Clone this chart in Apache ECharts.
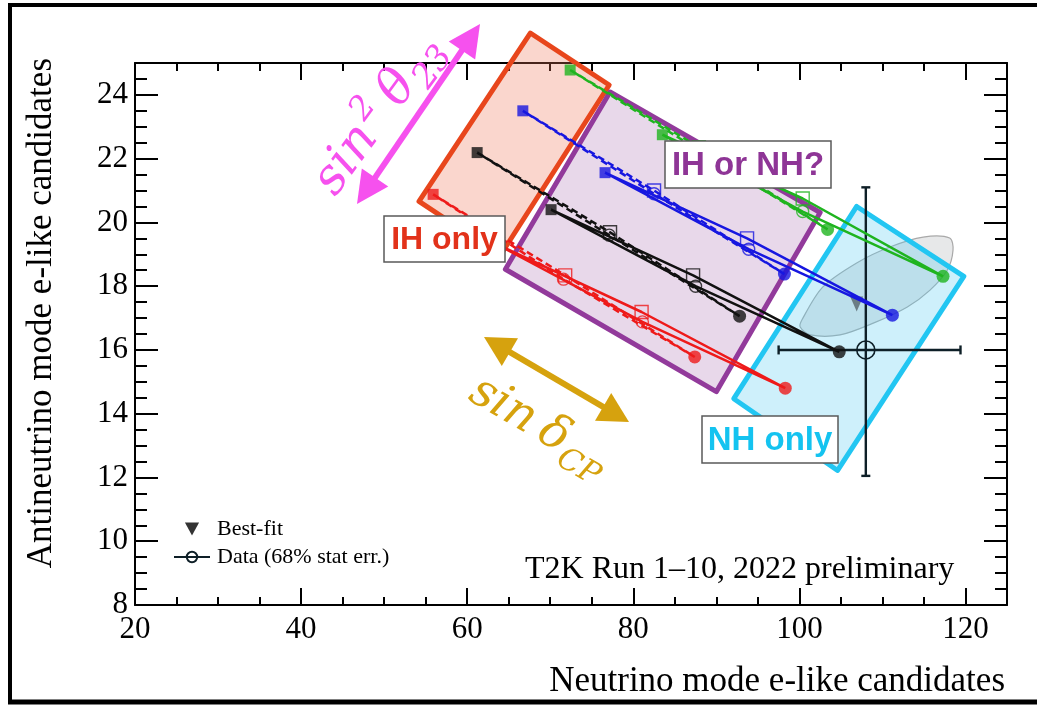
<!DOCTYPE html>
<html>
<head>
<meta charset="utf-8">
<script src="https://cdn.jsdelivr.net/npm/echarts@6/dist/echarts.min.js"></script>
<style>
  html, body { margin: 0; padding: 0; background: #fff; }
  #chart { width: 1037px; height: 706px; }
</style>
</head>
<body>
<div id="chart"></div>
<script>
// Axis ranges (event counts)
const xRange = [20, 125];
const yRange = [8, 25];

// Predicted (nu, anti-nu) e-like counts. Each loop runs over delta_CP:
// +pi/2 (filled square), 0 (open square), -pi/2 (filled circle), pi (open circle)
const ihRed   = [[55.9, 20.88], [71.8, 18.34], [87.4, 15.78], [71.6, 18.22]];
const nhRed   = [[63.3, 19.35], [81.0, 17.19], [98.3, 14.80], [81.1, 16.88]];
const ihBlack = [[61.2, 22.19], [77.2, 19.69], [92.8, 17.06], [77.1, 19.60]];
const nhBlack = [[70.1, 20.40], [87.2, 18.34], [104.8, 15.94], [87.5, 18.00]];
const ihBlue  = [[66.7, 23.50], [82.5, 21.00], [98.2, 18.38], [82.5, 20.90]];
const nhBlue  = [[76.6, 21.56], [93.7, 19.50], [111.2, 17.09], [93.9, 19.16]];
const ihGreen = [[72.4, 24.78], [87.9, 22.36], [103.4, 19.78], [87.9, 22.26]];
const nhGreen = [[83.5, 22.75], [100.4, 20.75], [117.3, 18.31], [100.4, 20.34]];

// Observed data and its 68% statistical errors
const dataPoint = [108.0, 16.0];
const dataErrX = [97.5, 119.4];
const dataErrY = [12.05, 21.1];

// Best-fit point and its 68% contour
const bestFit = [106.9, 17.44];
const contour68 = [
  [100.3, 16.94], [102.8, 17.97], [106.9, 18.73], [110.9, 19.23], [114.9, 19.54],
  [118.1, 19.51], [118.5, 19.13], [117.8, 18.50], [115.7, 17.87], [113.0, 17.35],
  [108.9, 16.84], [104.9, 16.47], [101.3, 16.47], [100.1, 16.72]
];

// Hand-drawn regions (corners in data units)
const regionIH   = [[67.6, 25.94], [77.1, 24.31], [64.0, 18.97], [54.2, 20.66]];
const regionBoth = [[77.2, 24.09], [102.5, 20.31], [90.0, 14.69], [64.6, 18.53]];
const regionNH   = [[106.9, 20.50], [119.8, 18.31], [104.6, 12.22], [92.1, 14.47]];

const COLORS = { red: '#ee1a1a', black: '#111111', blue: '#1717e0', green: '#1fb41f' };
const loops = [
  { pts: ihRed, color: COLORS.red, dashed: true },
  { pts: nhRed, color: COLORS.red, dashed: false },
  { pts: ihBlack, color: COLORS.black, dashed: true },
  { pts: nhBlack, color: COLORS.black, dashed: false },
  { pts: ihBlue, color: COLORS.blue, dashed: true },
  { pts: nhBlue, color: COLORS.blue, dashed: false },
  { pts: ihGreen, color: COLORS.green, dashed: true },
  { pts: nhGreen, color: COLORS.green, dashed: false }
];

const regions = [
  { corners: regionIH, fill: 'rgba(240,120,90,0.30)', stroke: '#e8461c' },
  { corners: regionBoth, fill: 'rgba(140,60,150,0.20)', stroke: '#923a9b' },
  { corners: regionNH, fill: 'rgba(80,200,240,0.28)', stroke: '#22c6f2' }
];

const SERIF = '"Liberation Serif", "Times New Roman", serif';
const SANS = '"Liberation Sans", Arial, sans-serif';
const MATH = '"DejaVu Serif", serif';

const series = [];

// 68% contour around the best fit
series.push({
  type: 'custom', silent: true, clip: false,
  data: [contour68[0]],
  renderItem: (params, api) => ({
    type: 'polygon',
    shape: { points: contour68.map(p => api.coord(p)), smooth: 0.3 },
    style: { fill: 'rgba(120,130,135,0.18)', stroke: '#a9a9a9', lineWidth: 1.2 }
  })
});

// Best-fit marker
series.push({
  name: 'Best-fit', type: 'scatter', data: [bestFit],
  symbol: 'triangle', symbolRotate: 180, symbolSize: [13, 15],
  itemStyle: { color: '#56646b' }, silent: true
});

// Shaded hierarchy regions
series.push({
  type: 'custom', silent: true, clip: false,
  data: regions.map(r => r.corners[0]),
  renderItem: (params, api) => {
    const r = regions[params.dataIndex];
    return {
      type: 'polygon',
      shape: { points: r.corners.map(p => api.coord(p)) },
      style: { fill: r.fill, stroke: r.stroke, lineWidth: 5, lineJoin: 'round' }
    };
  }
});

// Prediction loops
loops.forEach(L => {
  series.push({
    type: 'line', silent: true,
    data: L.pts.concat([L.pts[0]]),
    symbol: 'none',
    lineStyle: { color: L.color, width: 2.5, type: L.dashed ? [7, 4] : 'solid' }
  });
});

// delta_CP markers on each loop
loops.forEach(L => {
  const styleFor = k => {
    if (k === 0) return { symbol: 'rect', symbolSize: 11, itemStyle: { color: L.color } };
    if (k === 1) return { symbol: 'rect', symbolSize: 13, itemStyle: { color: 'rgba(0,0,0,0)', borderColor: L.color, borderWidth: 1.4 } };
    if (k === 2) return { symbol: 'circle', symbolSize: 13, itemStyle: { color: L.color } };
    return { symbol: 'circle', symbolSize: 12, itemStyle: { color: 'rgba(0,0,0,0)', borderColor: L.color, borderWidth: 1.4 } };
  };
  series.push({
    type: 'scatter', silent: true,
    data: L.pts.map((p, k) => Object.assign({ value: p }, styleFor(k)))
  });
});

// Data error bars
series.push({
  type: 'custom', silent: true, clip: false,
  data: [[dataPoint[0], dataPoint[1], dataErrX[0], dataErrX[1], dataErrY[0], dataErrY[1]]],
  renderItem: (params, api) => {
    const y = api.value(1), x = api.value(0);
    const l = api.coord([api.value(2), y]);
    const r = api.coord([api.value(3), y]);
    const b = api.coord([x, api.value(4)]);
    const t = api.coord([x, api.value(5)]);
    const cap = 4.5;
    const st = { stroke: '#0e1f27', lineWidth: 2.4 };
    const seg = (x1, y1, x2, y2) => ({ type: 'line', shape: { x1, y1, x2, y2 }, style: st });
    return {
      type: 'group',
      children: [
        seg(l[0], l[1], r[0], r[1]),
        seg(b[0], b[1], t[0], t[1]),
        seg(l[0], l[1] - cap, l[0], l[1] + cap),
        seg(r[0], r[1] - cap, r[0], r[1] + cap),
        seg(t[0] - cap, t[1], t[0] + cap, t[1]),
        seg(b[0] - cap, b[1], b[0] + cap, b[1])
      ]
    };
  }
});

// Data point
series.push({
  name: 'Data (68% stat err.)', type: 'line', data: [dataPoint],
  symbol: 'circle', symbolSize: 18, silent: true,
  itemStyle: { color: 'rgba(0,0,0,0)', borderColor: '#0e1f27', borderWidth: 1.6 },
  lineStyle: { color: '#0e1f27', width: 2 }
});

// ---- annotation helpers (all drawn on an upper layer) ----
const TOP = { zlevel: 1, z: 100 };
const measureCtx = document.createElement('canvas').getContext('2d');
function textWidth(text, font) { measureCtx.font = font; return measureCtx.measureText(text).width; }

function mathLabel(pieces, x, y, rotation, color) {
  let cx = 0;
  const children = [];
  pieces.forEach(p => {
    const font = 'italic ' + p.size + 'px ' + MATH;
    cx += (p.gap || 0);
    children.push(Object.assign({
      type: 'text', x: cx, y: p.dy || 0,
      style: { text: p.t, font: font, fill: color, align: 'left', verticalAlign: 'bottom', textAlign: 'left', textVerticalAlign: 'bottom' }
    }, TOP));
    cx += textWidth(p.t, font);
  });
  return { type: 'group', x, y, rotation, children };
}

function arrow(p, q, color, width, headLen, headHalf) {
  const dx = q[0] - p[0], dy = q[1] - p[1];
  const len = Math.hypot(dx, dy);
  const ux = dx / len, uy = dy / len, nx = -uy, ny = ux;
  const head = (tip, sx, sy) => Object.assign({
    type: 'polygon',
    shape: { points: [
      tip,
      [tip[0] - sx * headLen + nx * headHalf, tip[1] - sy * headLen + ny * headHalf],
      [tip[0] - sx * headLen - nx * headHalf, tip[1] - sy * headLen - ny * headHalf]
    ] },
    style: { fill: color }
  }, TOP);
  return [
    Object.assign({ type: 'line',
      shape: { x1: p[0] + ux * headLen * 0.8, y1: p[1] + uy * headLen * 0.8, x2: q[0] - ux * headLen * 0.8, y2: q[1] - uy * headLen * 0.8 },
      style: { stroke: color, lineWidth: width } }, TOP),
    head(q, ux, uy),
    head(p, -ux, -uy)
  ];
}

function boxedLabel(text, x, y, w, h, color, size) {
  return {
    type: 'group', x, y,
    children: [
      Object.assign({ type: 'rect', shape: { x: 0, y: 0, width: w, height: h },
        style: { fill: '#fff', stroke: '#5a5a5a', lineWidth: 1.5 } }, TOP),
      Object.assign({ type: 'text', x: w / 2, y: h / 2 + 1,
        style: { text, font: 'bold ' + size + 'px ' + SANS, fill: color,
                 align: 'center', verticalAlign: 'middle', textAlign: 'center', textVerticalAlign: 'middle' } },
        { zlevel: 1, z: 101 })
    ]
  };
}

const graphic = [
  // outer frame
  Object.assign({ type: 'line', shape: { x1: 10, y1: 3, x2: 10, y2: 703 }, style: { stroke: '#000', lineWidth: 4 } }, TOP),
  Object.assign({ type: 'line', shape: { x1: 8, y1: 5, x2: 1037, y2: 5 }, style: { stroke: '#000', lineWidth: 4 } }, TOP),
  Object.assign({ type: 'line', shape: { x1: 8, y1: 702, x2: 1037, y2: 702 }, style: { stroke: '#000', lineWidth: 5 } }, TOP),

  // axis titles
  { type: 'text', x: 1005, y: 682,
    style: { text: 'Neutrino mode e-like candidates', font: '35px ' + SERIF, fill: '#000',
             align: 'right', verticalAlign: 'middle', textAlign: 'right', textVerticalAlign: 'middle' } },
  { type: 'text', x: 42, y: 58, rotation: Math.PI / 2,
    style: { text: 'Antineutrino mode e-like candidates', font: '35px ' + SERIF, fill: '#000',
             align: 'right', verticalAlign: 'middle', textAlign: 'right', textVerticalAlign: 'middle' } },

  // run label
  { type: 'text', x: 525, y: 570,
    style: { text: 'T2K Run 1\u201310, 2022 preliminary', font: '32px ' + SERIF, fill: '#000',
             align: 'left', verticalAlign: 'middle', textAlign: 'left', textVerticalAlign: 'middle' } },

  // region labels
  boxedLabel('IH only', 384, 216, 121, 46, '#e2321a', 32),
  boxedLabel('IH or NH?', 665, 141, 166, 47, '#8e3596', 33),
  boxedLabel('NH only', 702, 416, 136, 47, '#14c3f0', 33),

  // parameter arrows
  ...arrow([357, 204], [480, 24], '#f651ee', 6, 32, 16),
  ...arrow([484, 337], [629, 422], '#d6a20e', 6, 30, 16),

  mathLabel([
    { t: 'sin', size: 50, dy: 11 },
    { t: '2', size: 33, dy: -14, gap: 4 },
    { t: '\u03b8', size: 50, dy: 11, gap: 11 },
    { t: '23', size: 34, dy: 19, gap: 1 }
  ], 336, 198, 0.94, '#f651ee'),

  mathLabel([
    { t: 'sin', size: 47, dy: 10 },
    { t: '\u03b4', size: 47, dy: 10, gap: 10 },
    { t: 'CP', size: 31, dy: 18, gap: 1 }
  ], 466, 400, -0.525, '#d6a20e')
];

const axisCommon = {
  type: 'value',
  splitLine: { show: false },
  axisLine: { show: true, onZero: false, lineStyle: { color: '#000', width: 2 } }
};

const option = {
  animation: false,
  backgroundColor: '#fff',
  grid: { left: 135, right: 30, top: 63, bottom: 101, containLabel: false },
  xAxis: [
    Object.assign({}, axisCommon, {
      min: xRange[0], max: xRange[1], interval: 20, position: 'bottom',
      axisTick: { inside: true, length: 17, lineStyle: { color: '#000', width: 2 } },
      minorTick: { show: true, splitNumber: 4, length: 8, lineStyle: { color: '#000', width: 2 } },
      axisLabel: { fontFamily: SERIF, fontSize: 31, color: '#000', margin: 9, showMaxLabel: false }
    }),
    Object.assign({}, axisCommon, {
      min: xRange[0], max: xRange[1], interval: 20, position: 'top',
      axisTick: { inside: true, length: 17, lineStyle: { color: '#000', width: 2 } },
      minorTick: { show: true, splitNumber: 4, length: 8, lineStyle: { color: '#000', width: 2 } },
      axisLabel: { show: false }
    })
  ],
  yAxis: [
    Object.assign({}, axisCommon, {
      min: yRange[0], max: yRange[1], interval: 2, position: 'left',
      axisTick: { inside: true, length: 23, lineStyle: { color: '#000', width: 2 } },
      minorTick: { show: true, splitNumber: 4, length: 12, lineStyle: { color: '#000', width: 2 } },
      axisLabel: { fontFamily: SERIF, fontSize: 31, color: '#000', margin: 7, showMaxLabel: false }
    }),
    Object.assign({}, axisCommon, {
      min: yRange[0], max: yRange[1], interval: 2, position: 'right',
      axisTick: { inside: true, length: 23, lineStyle: { color: '#000', width: 2 } },
      minorTick: { show: true, splitNumber: 4, length: 12, lineStyle: { color: '#000', width: 2 } },
      axisLabel: { show: false }
    })
  ],
  legend: {
    orient: 'vertical', left: 168, top: 513,
    itemWidth: 36, itemHeight: 13, itemGap: 6,
    selectedMode: false,
    textStyle: { fontFamily: SERIF, fontSize: 22, color: '#000', padding: [0, 0, 0, 2] },
    data: [
      { name: 'Best-fit', icon: 'path://M0,0L12,0L6,11Z', itemStyle: { color: '#000' } },
      { name: 'Data (68% stat err.)' }
    ]
  },
  series: series,
  graphic: graphic
};

const chart = echarts.init(document.getElementById('chart'), null, { renderer: 'canvas' });
chart.setOption(option);
</script>
</body>
</html>
